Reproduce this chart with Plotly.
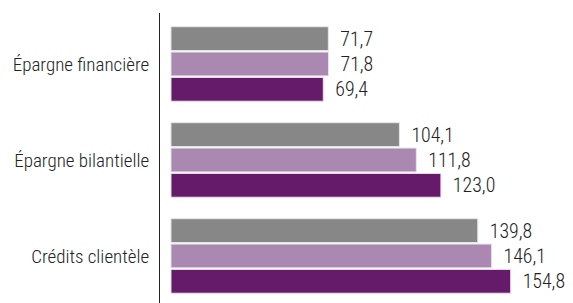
import plotly.graph_objects as go

categories = ["Épargne financière", "Épargne bilantielle", "Crédits clientèle"]
series_names = ["Série 1", "Série 2", "Série 3"]
values_1 = [71.7, 104.1, 139.8]
values_2 = [71.8, 111.8, 146.1]
values_3 = [69.4, 123.0, 154.8]
colors = ["#878787", "#AB88B1", "#661A6A"]

FONT = "Roboto Condensed, sans-serif"

fig = go.Figure()
for name, vals, col in zip(series_names, [values_1, values_2, values_3], colors):
    fig.add_trace(go.Bar(
        y=categories, x=vals, name=name, orientation="h",
        marker=dict(color=col, line=dict(color="#e6e6e6", width=1)),
        texttemplate="\u00a0\u00a0%{x:.1f}", textposition="outside",
        textfont=dict(family=FONT, size=20, color="#222222", weight=300),
        cliponaxis=False,
    ))

fig.update_layout(
    width=573, height=303,
    margin=dict(l=160, r=7, t=13, b=0),
    paper_bgcolor="white", plot_bgcolor="white",
    barmode="group", bargap=0.208, bargroupgap=0.06,
    showlegend=False,
    separators=", ",
    font=dict(family=FONT, size=19, color="#222222", weight=300),
    xaxis=dict(range=[-5, 180], visible=False),
    yaxis=dict(range=[2.490, -0.531], showline=True, linecolor="#222222", linewidth=1,
               automargin=False,
               ticks="", ticklen=0,
               tickfont=dict(family=FONT, size=19, color="#222222", weight=300),
               showgrid=False, zeroline=False, ticklabelstandoff=6),
)

fig.write_html("out.html", config={"displayModeBar": False},
               post_script="document.body.style.margin='0';document.body.style.padding='0';")
